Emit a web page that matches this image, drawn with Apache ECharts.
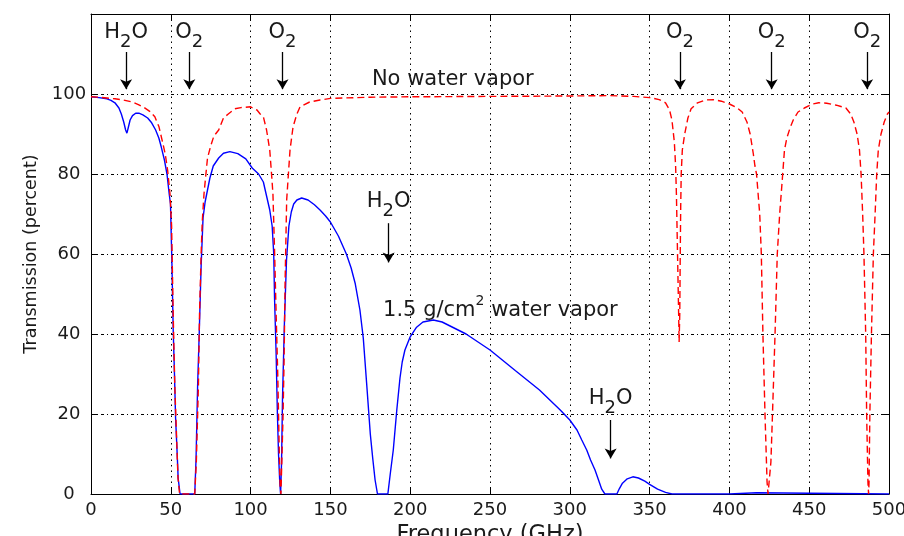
<!DOCTYPE html>
<html>
<head>
<meta charset="utf-8">
<script src="https://cdn.jsdelivr.net/npm/echarts@6/dist/echarts.min.js"></script>
<style>
html,body{margin:0;padding:0;background:#fff;}
#chart{width:904px;height:536px;}
</style>
</head>
<body>
<div id="chart"></div>
<script>
// ---- data ----
const xTicks = [0, 50, 100, 150, 200, 250, 300, 350, 400, 450, 500];
const yTicks = [0, 20, 40, 60, 80, 100];

// 1.5 g/cm^2 water vapor (blue, solid)
const wetFreq = [0,5,10,12.5,15,17.5,19,20.5,21.7,22.5,23.3,24.5,26,28,30,32.5,35.5,38,40.5,42.5,44,46,47.6,49,49.8,50.7,51.5,52.3,53,54,54.6,55.8,65,65.8,66.8,67.8,69,70.2,71.5,72.5,74.5,76.6,80,83,87,92,97,101,105,108,110,112,113.5,114.5,115,116,116.8,117.5,118.3,118.8,119.4,120,121.2,122.5,124,125.5,127,129,132,136,140,143.5,147,150,155,160,163,165.5,168.5,170.6,172.7,175,176.5,178,179.5,186,187.5,189.4,191.6,193.6,195,196.7,200,204,208,214.5,220,225,235,250,266,281,294,300,304.5,307.5,310.6,313,315.8,318,320,322,329.5,331,333,336,339.5,343,347,350,355,360,364,400,400.5,417,417.5,500];
const wetTrans = [99.3,99.1,98.8,98.4,97.8,96.5,95,93,91,90.2,91.5,93.5,94.6,95.2,95.2,94.8,94,92.8,91,89,86.8,83.5,80,75,72.5,57.7,41,30,19,10,4,0,0,8.5,27,40,57,69,73,75,79,82,84,85.2,85.6,85.1,83.8,81.5,80,78,74.5,71,67,60,49,35,20,10,2.7,0,8,24,43,58.5,67,70.5,72.5,73.5,74,73.5,72.3,71,69.5,68,64.5,60,56.5,52.7,46,39,27.7,15,9,3.5,0,0,5,11,21,29,33,36,39.3,41.7,43,43.5,43,42,40,36,30.8,26,21,18.5,16,13.5,11,8.5,6,3.5,1.2,0,0,1.3,2.7,3.8,4.3,4.0,3.2,2.4,1.2,0.4,0,0,0.3,0.3,0,0];

// No water vapor (red, dashed)
const dryFreq = [0,5,10,15,20,26,30,33,37,40,42.6,45,46.5,48,49.5,50.5,51.5,52.5,53.3,54.5,55.5,65,66,67.3,68,69,69.7,70.8,72,73,75,77,80,83,86,90,94,100,104,106,108,110,112,113.4,114,115,116,117,118,118.5,119,119.6,120.3,121,121.6,122.6,124.7,126.6,129,131,137,143.5,150,175,200,250,300,325,340,350,356,360,362.5,364,365.5,366.3,366.8,367.5,368.2,368.5,368.9,369.2,369.5,369.8,370.5,372,374,376,380,385,390,395,400,405,408,411,413,415,416,417,419,420,421,422.3,423.6,424.2,425.2,426,427,428.6,430,431.5,433.4,434.5,436,438,440,443,447,452,456,461,467,473,476,478,480,481.5,482.5,483.5,484.3,485.4,486,486.8,487.2,487.5,488,489,490.2,491.3,492.3,493.3,495,497,499,500];
const dryTrans = [99.3,99.2,99,98.8,98.5,98,97.3,96.7,95.6,94.3,91.8,87.7,85,81,75,67,45,27,18,4,0,0,8,27,45,60,68,75,80,84,87,89.5,91,94,95,96.3,96.6,96.8,96,95,94.3,91,86,78.5,75,61,45,30,10,2,0,0,19,34,52.7,73.5,86,91.8,95,96.8,98,98.5,98.9,99.2,99.3,99.4,99.5,99.6,99.4,99.1,98.6,97.8,96,93.5,88,82,75,60,45,38,45,60,72,80,86,90,94,96.3,97.8,98.5,98.6,98.2,97.5,96.5,95.5,93,90,85,82,80,70,60,40,20,3,0,0,8,20,40,60,70,80,86,89,91.5,93.5,95.5,96.5,97.5,97.8,97.7,97.2,96.5,95,93,90,86,80,70,60,40,20,3,0,3,20,40,60,70,80,86,90,93,95,95.5];

// annotations: rich text, arrow frequency, label y, arrow top y, arrow tip y
const annotText = ['{n|H}{s|2}{n|O}', '{n|O}{s|2}', '{n|O}{s|2}', '{n|O}{s|2}', '{n|O}{s|2}', '{n|O}{s|2}', '{n|H}{s|2}{n|O}', '{n|H}{s|2}{n|O}'];
const annotFreq = [22, 61.6, 120, 369, 426.5, 486.3, 186.5, 325.6];
const annotLabelY = [115.3, 115.3, 115.3, 115.3, 115.3, 115.3, 73, 23.8];
const arrowTopY = [110.5, 110.5, 110.5, 110.5, 110.5, 110.5, 67.7, 18.5];
const arrowTipY = [100, 100, 100, 100, 100, 100, 56.7, 7.7];

const noteText = ['{m|No water vapor}', '{m2|1.5 g/cm}{p|2}{m2| water vapor}'];
const noteFreq = [176, 183];
const noteY = [103.5, 47.3];

// ---- build ----
const FONT = 'DejaVu Sans';
const TXT = '#1a1a1a';
const zip = (a, b) => a.map((v, i) => [v, b[i]]);

const richStyles = {
  n: {fontSize: 21, lineHeight: 21, fontFamily: FONT, color: TXT, verticalAlign: 'top'},
  s: {fontSize: 18, lineHeight: 18, fontFamily: FONT, color: TXT, verticalAlign: 'top', padding: [11, 0, 0, 0]},
  m: {fontSize: 21, lineHeight: 21, fontFamily: FONT, color: TXT},
  m2: {fontSize: 21, lineHeight: 21, fontFamily: FONT, color: TXT, verticalAlign: 'top', padding: [6, 0, 0, 0]},
  p: {fontSize: 14, lineHeight: 14, fontFamily: FONT, color: TXT, verticalAlign: 'top'}
};

const hiddenSym = {symbol: 'circle', symbolSize: 1, itemStyle: {color: 'rgba(0,0,0,0)'}};

const markPoints = annotText.map((t, i) => Object.assign({
  coord: [annotFreq[i], annotLabelY[i]],
  label: {show: true, formatter: t, position: 'inside', align: 'center', verticalAlign: 'middle', rich: richStyles}
}, hiddenSym)).concat(noteText.map((t, i) => Object.assign({
  coord: [noteFreq[i], noteY[i]],
  label: {show: true, formatter: t, position: 'inside', align: 'left', verticalAlign: 'middle', rich: richStyles}
}, hiddenSym)));

const markLines = annotFreq.map((f, i) => [
  {coord: [f, arrowTopY[i]]},
  {coord: [f, arrowTipY[i] + 1.2]}
]);

const chart = echarts.init(document.getElementById('chart'), null, {renderer: 'canvas'});

const axisLineStyle = {color: '#000', width: 1};
const tickStyle = {show: true, inside: true, length: 6, lineStyle: {color: '#000', width: 1}};

chart.setOption({
  animation: false,
  backgroundColor: '#fff',
  grid: {left: 91, right: 15, top: 14, bottom: 42, containLabel: false, outerBoundsMode: 'none'},
  xAxis: [{
    type: 'value', min: 0, max: 500, interval: 50, position: 'bottom',
    axisLine: {show: true, onZero: false, lineStyle: axisLineStyle},
    axisTick: tickStyle,
    axisLabel: {fontSize: 18, fontFamily: FONT, color: TXT, margin: 7,
      formatter: v => xTicks.includes(v) ? String(v) : ''},
    splitLine: {show: true, lineStyle: {color: '#000', width: 1, type: [1.5, 4]}},
    name: 'Frequency (GHz)', nameLocation: 'middle', nameGap: 24,
    nameTextStyle: {fontSize: 22.5, fontFamily: FONT, color: TXT}
  }, {
    type: 'value', min: 0, max: 500, interval: 50, position: 'top',
    axisLine: {show: true, onZero: false, lineStyle: axisLineStyle},
    axisTick: tickStyle, axisLabel: {show: false}, splitLine: {show: false}
  }],
  yAxis: [{
    type: 'value', min: 0, max: 120, interval: 20, position: 'left',
    axisLine: {show: true, onZero: false, lineStyle: axisLineStyle},
    axisTick: tickStyle,
    axisLabel: {fontSize: 18, fontFamily: FONT, color: TXT, margin: 22, align: 'center',
      formatter: v => yTicks.includes(v) ? String(v) : ''},
    splitLine: {show: true, lineStyle: {color: '#000', width: 1, type: [3, 3, 1, 3]}},
    name: 'Transmission (percent)', nameLocation: 'middle', nameGap: 46,
    nameTextStyle: {fontSize: 17.5, fontFamily: FONT, color: TXT}
  }, {
    type: 'value', min: 0, max: 120, interval: 20, position: 'right',
    axisLine: {show: true, onZero: false, lineStyle: axisLineStyle},
    axisTick: tickStyle, axisLabel: {show: false}, splitLine: {show: false}
  }],
  series: [{
    name: '1.5 g/cm2 water vapor', type: 'line', data: zip(wetFreq, wetTrans),
    showSymbol: false, symbol: 'none', smooth: false, clip: true,
    lineStyle: {color: '#0000ff', width: 1.4}, z: 3
  }, {
    name: 'No water vapor', type: 'line', data: zip(dryFreq, dryTrans),
    showSymbol: false, symbol: 'none', smooth: false, clip: true,
    lineStyle: {color: '#ff0000', width: 1.4, type: [7, 4]}, z: 4
  }, {
    name: 'annotations', type: 'line', data: [], silent: true,
    markPoint: {silent: true, animation: false, data: markPoints},
    markLine: {silent: true, animation: false, symbol: ['none', 'arrow'], symbolSize: [9, 10],
      lineStyle: {color: '#000', width: 1.3, type: 'solid'},
      label: {show: false}, emphasis: {disabled: true}, data: markLines},
    z: 5
  }]
});
</script>
</body>
</html>
